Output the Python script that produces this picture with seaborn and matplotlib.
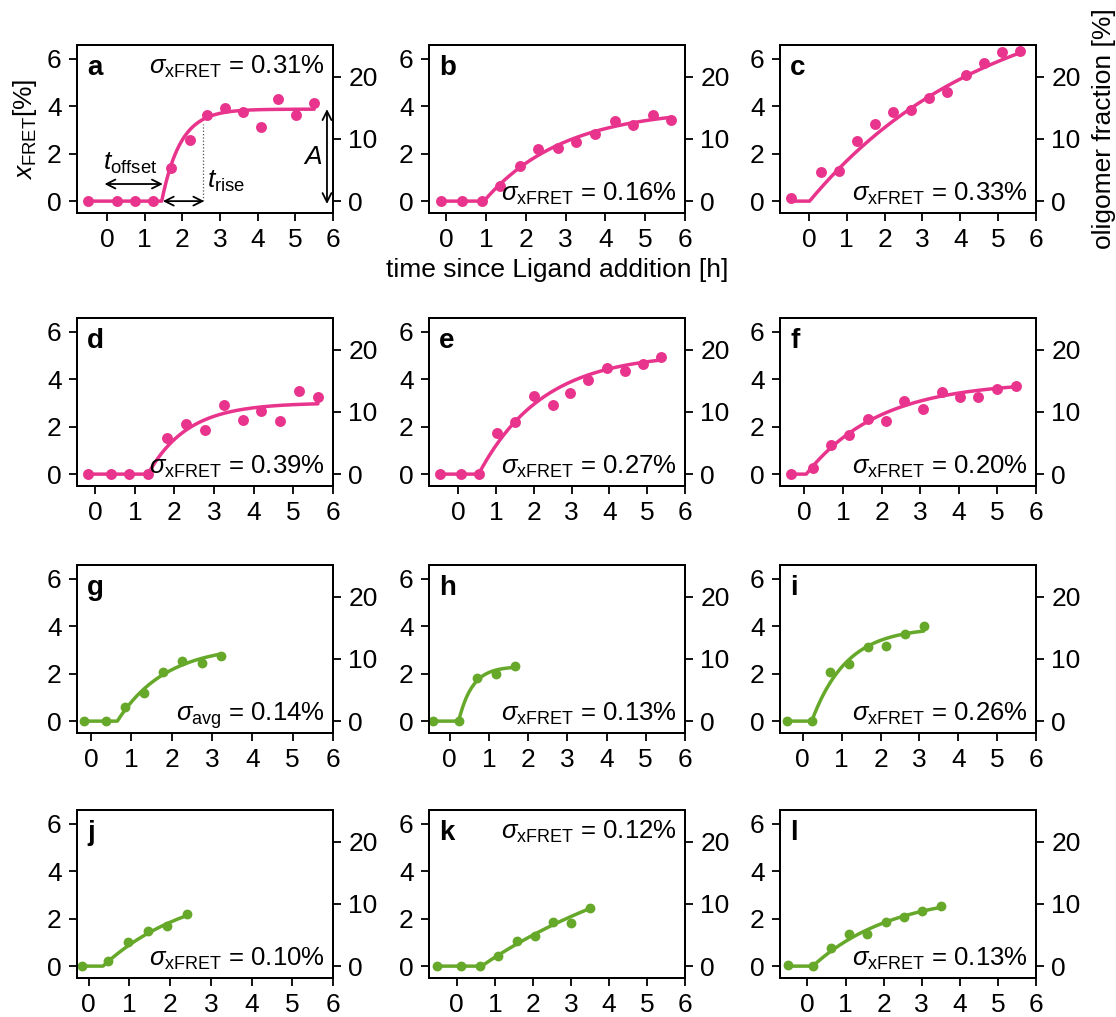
import numpy as np
import pandas as pd
import matplotlib
matplotlib.use("Agg")
import matplotlib.pyplot as plt
import seaborn as sns

# ---------------- data: time [h] and xFRET [%] per experiment ----------------
t_a = [-0.50, 0.27, 0.74, 1.21, 1.70, 2.19, 2.65, 3.13, 3.60, 4.09, 4.55, 5.02, 5.50]
x_a = [0.00, 0.00, 0.00, 0.00, 1.41, 2.58, 3.63, 3.90, 3.77, 3.10, 4.30, 3.61, 4.15]

t_b = [-0.14, 0.40, 0.89, 1.36, 1.85, 2.32, 2.80, 3.27, 3.74, 4.23, 4.70, 5.19, 5.66]
x_b = [0.00, 0.00, 0.00, 0.65, 1.48, 2.20, 2.23, 2.48, 2.83, 3.39, 3.21, 3.61, 3.42]

t_c = [-0.46, 0.31, 0.80, 1.28, 1.75, 2.23, 2.71, 3.18, 3.66, 4.15, 4.63, 5.11, 5.58]
x_c = [0.14, 1.24, 1.28, 2.55, 3.25, 3.73, 3.82, 4.34, 4.58, 5.32, 5.82, 6.28, 6.31]

t_d = [-0.17, 0.39, 0.86, 1.33, 1.81, 2.29, 2.76, 3.24, 3.72, 4.19, 4.67, 5.15, 5.62]
x_d = [0.00, 0.00, 0.00, 0.00, 1.52, 2.11, 1.87, 2.90, 2.27, 2.64, 2.25, 3.48, 3.24]

t_e = [-0.48, 0.07, 0.54, 1.02, 1.51, 2.01, 2.50, 2.97, 3.44, 3.93, 4.41, 4.88, 5.37]
x_e = [0.00, 0.00, 0.00, 1.73, 2.20, 3.27, 2.92, 3.41, 3.94, 4.46, 4.36, 4.64, 4.91]

t_f = [-0.34, 0.22, 0.69, 1.16, 1.64, 2.12, 2.59, 3.07, 3.56, 4.03, 4.51, 4.98, 5.47]
x_f = [0.00, 0.27, 1.24, 1.64, 2.34, 2.25, 3.06, 2.74, 3.45, 3.23, 3.24, 3.58, 3.72]

t_g = [-0.18, 0.36, 0.83, 1.31, 1.78, 2.26, 2.74, 3.23]
x_g = [0.00, 0.00, 0.59, 1.17, 2.08, 2.53, 2.43, 2.76]

t_h = [-0.42, 0.23, 0.71, 1.19, 1.67]
x_h = [0.00, 0.00, 1.80, 1.99, 2.32]

t_i = [-0.41, 0.23, 0.71, 1.20, 1.68, 2.15, 2.64, 3.11]
x_i = [0.00, 0.00, 2.08, 2.41, 3.10, 3.17, 3.65, 4.00]

t_j = [-0.16, 0.48, 0.97, 1.45, 1.92, 2.41]
x_j = [0.00, 0.21, 1.03, 1.48, 1.69, 2.20]

t_k = [-0.53, 0.11, 0.60, 1.08, 1.58, 2.06, 2.54, 3.00, 3.49]
x_k = [0.00, 0.00, 0.00, 0.42, 1.06, 1.28, 1.85, 1.83, 2.46]

t_l = [-0.52, 0.14, 0.62, 1.10, 1.57, 2.06, 2.54, 3.02, 3.50]
x_l = [0.04, 0.00, 0.77, 1.35, 1.34, 1.87, 2.06, 2.34, 2.51]

# fitted rise model parameters: offset time [h], rise time constant [h], amplitude [%]
fit_t0 = [1.45, 0.95, 0.02, 1.33, 0.54, 0.05, 0.65, 0.23, 0.23, 0.35, 0.65, 0.14]
fit_tau = [0.50, 2.00, 4.70, 1.00, 1.70, 1.90, 1.20, 0.35, 0.90, 2.20, 5.50, 2.10]
fit_amp = [3.87, 3.90, 9.00, 3.00, 5.10, 3.90, 3.20, 2.30, 3.95, 3.50, 6.00, 3.10]

# residual standard deviation of each fit [%]
sigma_names = ["xFRET"] * 6 + ["avg"] + ["xFRET"] * 5
sigma_vals = ["0.31", "0.16", "0.33", "0.39", "0.27", "0.20",
              "0.14", "0.13", "0.26", "0.10", "0.12", "0.13"]

letters = list("abcdefghijkl")
times = [t_a, t_b, t_c, t_d, t_e, t_f, t_g, t_h, t_i, t_j, t_k, t_l]
values = [x_a, x_b, x_c, x_d, x_e, x_f, x_g, x_h, x_i, x_j, x_k, x_l]

OLIGO_PER_XFRET = 3.82  # oligomer fraction [%] per xFRET [%]
PINK = "#E8348C"
GREEN = "#66A82A"
FS = 19


def rise(t, t0, tau, amp):
    t = np.asarray(t, dtype=float)
    return np.where(t < t0, 0.0, amp * (1.0 - np.exp(-(t - t0) / tau)))


sns.set_theme(style="ticks")
plt.rcParams.update({
    "font.family": ["Liberation Sans", "DejaVu Sans"],
    "mathtext.fontset": "custom",
    "mathtext.rm": "Liberation Sans",
    "mathtext.it": "Liberation Sans:italic",
    "mathtext.bf": "Liberation Sans:bold",
    "font.size": FS,
    "axes.labelsize": FS,
    "text.color": "black",
    "axes.labelcolor": "black",
    "axes.edgecolor": "black",
    "axes.linewidth": 1.4,
    "xtick.color": "black",
    "ytick.color": "black",
    "xtick.labelsize": FS,
    "ytick.labelsize": FS,
    "xtick.major.size": 6,
    "ytick.major.size": 6,
    "xtick.major.width": 1.3,
    "ytick.major.width": 1.3,
    "xtick.major.pad": 5,
    "ytick.major.pad": 5,
})

W, H = 1116, 1017
fig = plt.figure(figsize=(W / 100, H / 100), dpi=100)

col_left = [77, 429, 780]
row_top = [45, 318, 565, 810]
ax_w, ax_h = 256, 168

YLIM = (-0.5, 6.57)

for i, letter in enumerate(letters):
    r, c = divmod(i, 3)
    rect = [col_left[c] / W, 1 - (row_top[r] + ax_h) / H, ax_w / W, ax_h / H]
    ax = fig.add_axes(rect)
    color = PINK if i < 6 else GREEN
    t = np.array(times[i])
    x = np.array(values[i])

    grid = np.union1d(np.linspace(t[0], t[-1], 400), [fit_t0[i]])
    grid = grid[(grid >= t[0]) & (grid <= t[-1])]
    curve = pd.DataFrame({"t": grid, "fit": rise(grid, fit_t0[i], fit_tau[i], fit_amp[i])})
    pts = pd.DataFrame({"t": t, "xfret": x})

    sns.lineplot(data=curve, x="t", y="fit", ax=ax, color=color, lw=2.5,
                 estimator=None, sort=False)
    sns.scatterplot(data=pts, x="t", y="xfret", ax=ax, color=color,
                    s=62 if i < 6 else 50, linewidth=0, zorder=3)

    ax.set_xlim(right=6)
    ax.set_ylim(*YLIM)
    ax.set_xticks(range(7))
    ax.set_yticks([0, 2, 4, 6])
    ax.set_xlabel("")
    ax.set_ylabel("")

    twin = ax.twinx()
    twin.set_ylim(YLIM[0] * OLIGO_PER_XFRET, YLIM[1] * OLIGO_PER_XFRET)
    twin.set_yticks([0, 10, 20])

    ax.text(0.04, 0.82, letter, transform=ax.transAxes, fontsize=20,
            fontweight="bold", ha="left", va="baseline")

    label = rf"$\sigma_\mathrm{{{sigma_names[i]}}}$ = {sigma_vals[i]}%"
    y_lab = 0.83 if letter in ("a", "k") else 0.075
    ax.text(0.968, y_lab, label, transform=ax.transAxes, fontsize=18.5,
            ha="right", va="baseline")

    if letter == "a":
        ax.set_ylabel(r"$x_\mathrm{FRET}$[%]", fontsize=FS, labelpad=6)
        arrow = dict(arrowstyle="<->", color="black", lw=1.3,
                     shrinkA=0, shrinkB=0, mutation_scale=16)
        ax.annotate("", xy=(1.48, 0.72), xytext=(-0.07, 0.72), arrowprops=arrow)
        ax.annotate("", xy=(2.58, 0.0), xytext=(1.48, 0.0), arrowprops=arrow)
        ax.annotate("", xy=(5.84, 3.87), xytext=(5.84, -0.12), arrowprops=arrow)
        t_mark = 2.55
        ax.plot([t_mark, t_mark], [0, 3.25], ls=":", color="0.3", lw=0.9)
        ax.text(0.62, 1.30, r"$t_\mathrm{offset}$", ha="center", va="baseline", fontsize=FS)
        ax.text(2.66, 0.55, r"$t_\mathrm{rise}$", ha="left", va="baseline", fontsize=FS)
        ax.text(5.45, 1.85, r"$A$", ha="center", va="center", fontsize=FS)
    if letter == "b":
        ax.set_xlabel("time since Ligand addition [h]", fontsize=FS, labelpad=4)
    if letter == "c":
        twin.set_ylabel("oligomer fraction [%]", fontsize=FS, labelpad=8)

fig.savefig("out.png", dpi=100)
